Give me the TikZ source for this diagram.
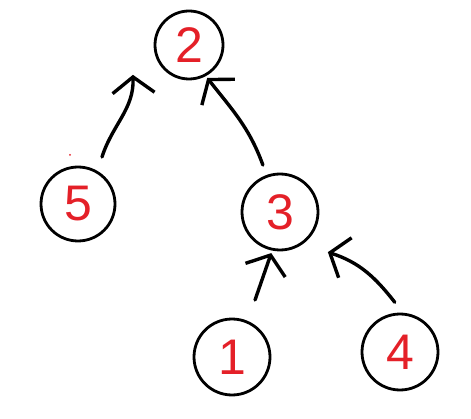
\documentclass[tikz,border=0pt]{standalone}
\usepackage{fontspec}
\setmainfont{Liberation Sans}
\usetikzlibrary{arrows.meta}
\definecolor{inkred}{RGB}{228,32,40}
\tikzset{
  treenode/.style={circle, draw=black, line width=2.8pt, minimum size=74pt, inner sep=0pt,
    font=\fontsize{50}{50}\selectfont, text=inkred},
  arr/.style={line width=3.4pt, line cap=round, -{Straight Barb[length=16pt,width=42pt,line width=3.4pt]}}
}
\begin{document}
\begin{tikzpicture}[x=1pt,y=1pt]
\useasboundingbox (0,0) rectangle (471,418);
\node[treenode, minimum size=68pt] (n2) at (189,373) {2};
\node[treenode] (n5) at (78,214) {5};
\node[treenode, minimum size=76pt] (n3) at (280,206) {3};
\node[treenode, minimum size=76pt] (n1) at (232,61) {1};
\node[treenode, minimum size=76pt] (n4) at (400,66) {4};
\fill[inkred] (70,263) circle (1pt);
\draw[arr] ([shift={(63:52.8)}]n5.center) to[out=72,in=-88] ([shift={(208:63.5)}]n2.center);
\draw[arr] ([shift={(110:50)}]n3.center) to[out=110,in=-52] ([shift={(299:37.6)}]n2.center);
\draw[arr] ([shift={(68:61.5)}]n1.center) -- ([shift={(258:42)}]n3.center);
\draw[arr] ([shift={(96:50)}]n4.center) to[out=128,in=-18] ([shift={(320:62.5)}]n3.center);
\end{tikzpicture}
\end{document}
